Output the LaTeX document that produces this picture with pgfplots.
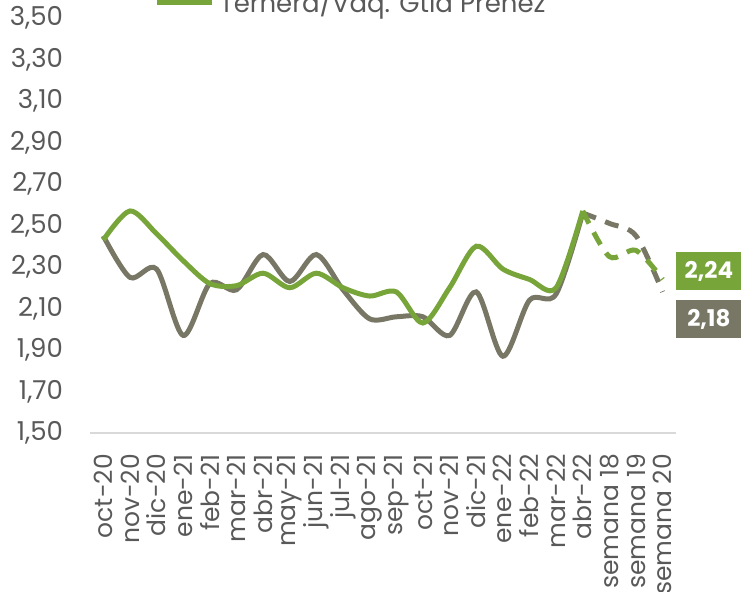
\documentclass[border=0pt]{standalone}
\usepackage{pgfplots}
\pgfplotsset{compat=1.18}
\usepackage{fontspec}
\setmainfont{Poppins}
\definecolor{vgreen}{HTML}{78A53A}
\definecolor{vgray}{HTML}{787765}
\definecolor{txt}{HTML}{595959}
\begin{document}
\begin{tikzpicture}
\begin{axis}[
  scale only axis,
  width=293pt, height=207.5pt,
  xmin=-0.5, xmax=21.5, ymin=1.5, ymax=3.5,
  axis x line=bottom, axis y line=left,
  axis line style={-},
  x axis line style={draw=black!15, line width=1pt},
  y axis line style={draw=none},
  major tick length=0pt,
  xtick={0,...,21},
  xticklabels={oct-20,nov-20,dic-20,ene-21,feb-21,mar-21,abr-21,may-21,jun-21,jul-21,ago-21,sep-21,oct-21,nov-21,dic-21,ene-22,feb-22,mar-22,abr-22,semana 18,semana 19,semana 20},
  xticklabel style={rotate=90, anchor=east, font=\fontsize{12.5}{14}\selectfont, text=txt, xshift=-7pt},
  ytick={1.5,1.7,...,3.51},
  yticklabel style={anchor=east, xshift=-10pt, font=\fontsize{13}{15}\selectfont, text=txt},
  /pgf/number format/.cd, fixed, fixed zerofill, precision=2, use comma, assume math mode=true,
  /pgfplots/.cd,
  clip=false,
  legend style={at={(0.108,1.0386)}, anchor=west, draw=none, fill=none, inner sep=0pt,
    font=\fontsize{13}{15}\selectfont, text=txt},
  legend cell align=left,
  legend image code/.code={\draw[#1, line width=3.5pt, solid] (0pt,0pt) -- (27.5pt,0pt);},
]
% gray series
\addplot[vgray, line width=2.5pt, smooth, tension=0.5, forget plot] coordinates {
(0,2.45) (1,2.25) (2,2.29) (3,1.97) (4,2.22) (5,2.19) (6,2.36) (7,2.23) (8,2.36) (9,2.19)
(10,2.05) (11,2.06) (12,2.06) (13,1.97) (14,2.18) (15,1.87) (16,2.14) (17,2.17) (18,2.56)};
\addplot[vgray, line width=2.5pt, smooth, tension=0.5, dash pattern=on 7pt off 5pt, forget plot] coordinates {
(18,2.56) (19,2.51) (20,2.45) (21,2.18)};
% green series
\addplot[vgreen, line width=2.5pt, smooth, tension=0.5] coordinates {
(0,2.43) (1,2.57) (2,2.46) (3,2.33) (4,2.22) (5,2.21) (6,2.27) (7,2.20) (8,2.27) (9,2.20)
(10,2.16) (11,2.18) (12,2.03) (13,2.20) (14,2.40) (15,2.29) (16,2.24) (17,2.20) (18,2.57)};
\addlegendentry{Ternera/Vaq. Gtia Preñez}
\addplot[vgreen, line width=2.5pt, smooth, tension=0.5, dash pattern=on 7pt off 5pt, forget plot] coordinates {
(18,2.57) (19,2.35) (20,2.38) (21,2.24)};
\node[fill=vgreen, text=white, font=\bfseries\fontsize{11.5}{13}\selectfont, minimum width=32.5pt, minimum height=19pt, inner sep=0pt, anchor=west] at (axis cs:21.5,2.281) {2,24};
\node[fill=vgray, text=white, font=\bfseries\fontsize{11.5}{13}\selectfont, minimum width=32.5pt, minimum height=19pt, inner sep=0pt, anchor=west] at (axis cs:21.5,2.049) {2,18};
\end{axis}
\pgfresetboundingbox
\path[use as bounding box] ([shift={(-45pt,-79.5pt)}]current axis.south west) rectangle ([shift={(32.5pt,9pt)}]current axis.north east);
\end{tikzpicture}
\end{document}
